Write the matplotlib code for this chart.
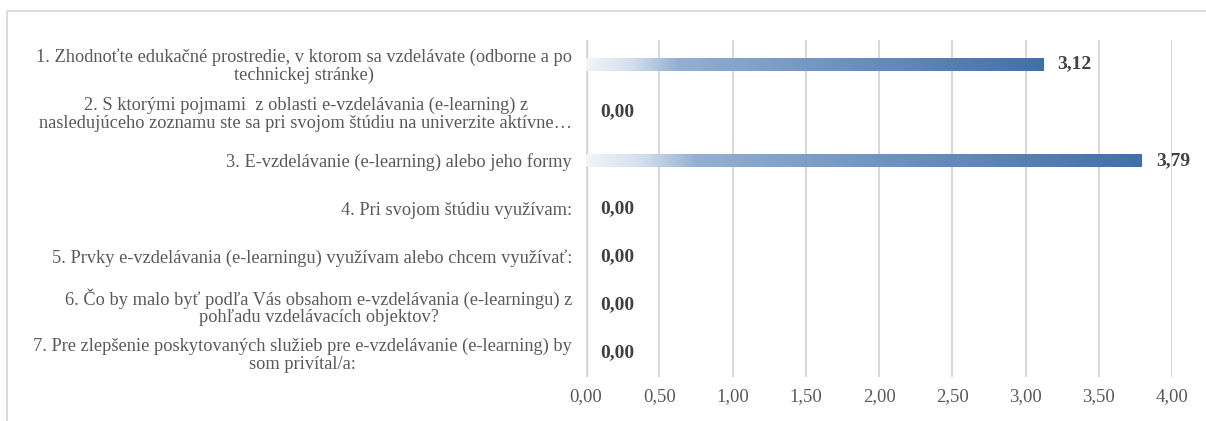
import matplotlib.pyplot as plt
import numpy as np
from matplotlib.colors import LinearSegmentedColormap
from matplotlib.patches import Rectangle

questions = [
    "1. Zhodnoťte edukačné prostredie, v ktorom sa vzdelávate (odborne a po\ntechnickej stránke)",
    "2. S ktorými pojmami  z oblasti e-vzdelávania (e-learning) z\nnasledujúceho zoznamu ste sa pri svojom štúdiu na univerzite aktívne…",
    "3. E-vzdelávanie (e-learning) alebo jeho formy",
    "4. Pri svojom štúdiu využívam:",
    "5. Prvky e-vzdelávania (e-learningu) využívam alebo chcem využívať:",
    "6. Čo by malo byť podľa Vás obsahom e-vzdelávania (e-learningu) z\npohľadu vzdelávacích objektov?",
    "7. Pre zlepšenie poskytovaných služieb pre e-vzdelávanie (e-learning) by\nsom privítal/a:",
]
scores = [3.12, 0.00, 3.79, 0.00, 0.00, 0.00, 0.00]
x_ticks = np.arange(0.0, 4.01, 0.5)

plt.rcParams['font.family'] = ['Liberation Serif', 'DejaVu Serif']
fntsize = 13.2
txt_col = '#595959'
grid_col = '#d9d9d9'

fig = plt.figure(figsize=(12.06, 4.21), dpi=100)
# outer chart border (cropped at right / bottom like the reference)
fig.patches.append(Rectangle((7/1206, -0.1), 1.2, 1 - 11/421 + 0.1, transform=fig.transFigure,
                             fill=False, edgecolor=grid_col, linewidth=1.3))
ax = fig.add_axes([586/1206, 1 - 377/421, (1172 - 586)/1206, (377 - 40)/421])

y = np.arange(len(questions))
bars = ax.barh(y, scores, height=0.27, color='none', edgecolor='none', zorder=3)

# gradient fill like the excel bar
grad = LinearSegmentedColormap.from_list('g', [(0.0, '#f2f5fa'), (0.1, '#d3deec'), (0.2, '#93afd3'),
                                              (0.5, '#7396c3'), (1.0, '#4170a8')])
for b in bars:
    w = b.get_width()
    if w <= 0:
        continue
    img = ax.imshow(np.linspace(0, 1, 256).reshape(1, -1), cmap=grad, aspect='auto',
                    extent=(b.get_x(), b.get_x() + w, b.get_y() + b.get_height(), b.get_y()),
                    zorder=3, interpolation='bilinear')
    img.set_clip_path(b)

for i, v in enumerate(scores):
    ax.annotate(f"{v:.2f}".replace('.', ','), (v, i), xytext=(10.5, 0), textcoords='offset points',
                ha='left', va='center', fontsize=14, fontweight='bold', color='#404040')

ax.set_xlim(0, 4.0)
ax.set_ylim(len(questions) - 0.5, -0.5)
ax.set_xticks(x_ticks)
ax.set_xticklabels([f"{t:.2f}".replace('.', ',') for t in x_ticks], fontsize=13.5, color=txt_col)
ax.set_yticks(y)
ax.set_yticklabels(questions, fontsize=fntsize, color=txt_col, multialignment='center',
                   linespacing=1.05)
ax.tick_params(axis='both', length=0)
ax.tick_params(axis='y', pad=10)
ax.tick_params(axis='x', pad=8)
for s in ax.spines.values():
    s.set_visible(False)
ax.grid(axis='x', color=grid_col, linewidth=1.5, zorder=0)
ax.axvline(0, color='#d0d0d0', linewidth=3, zorder=1)

fig.savefig('out.png', dpi=100, facecolor='white')
